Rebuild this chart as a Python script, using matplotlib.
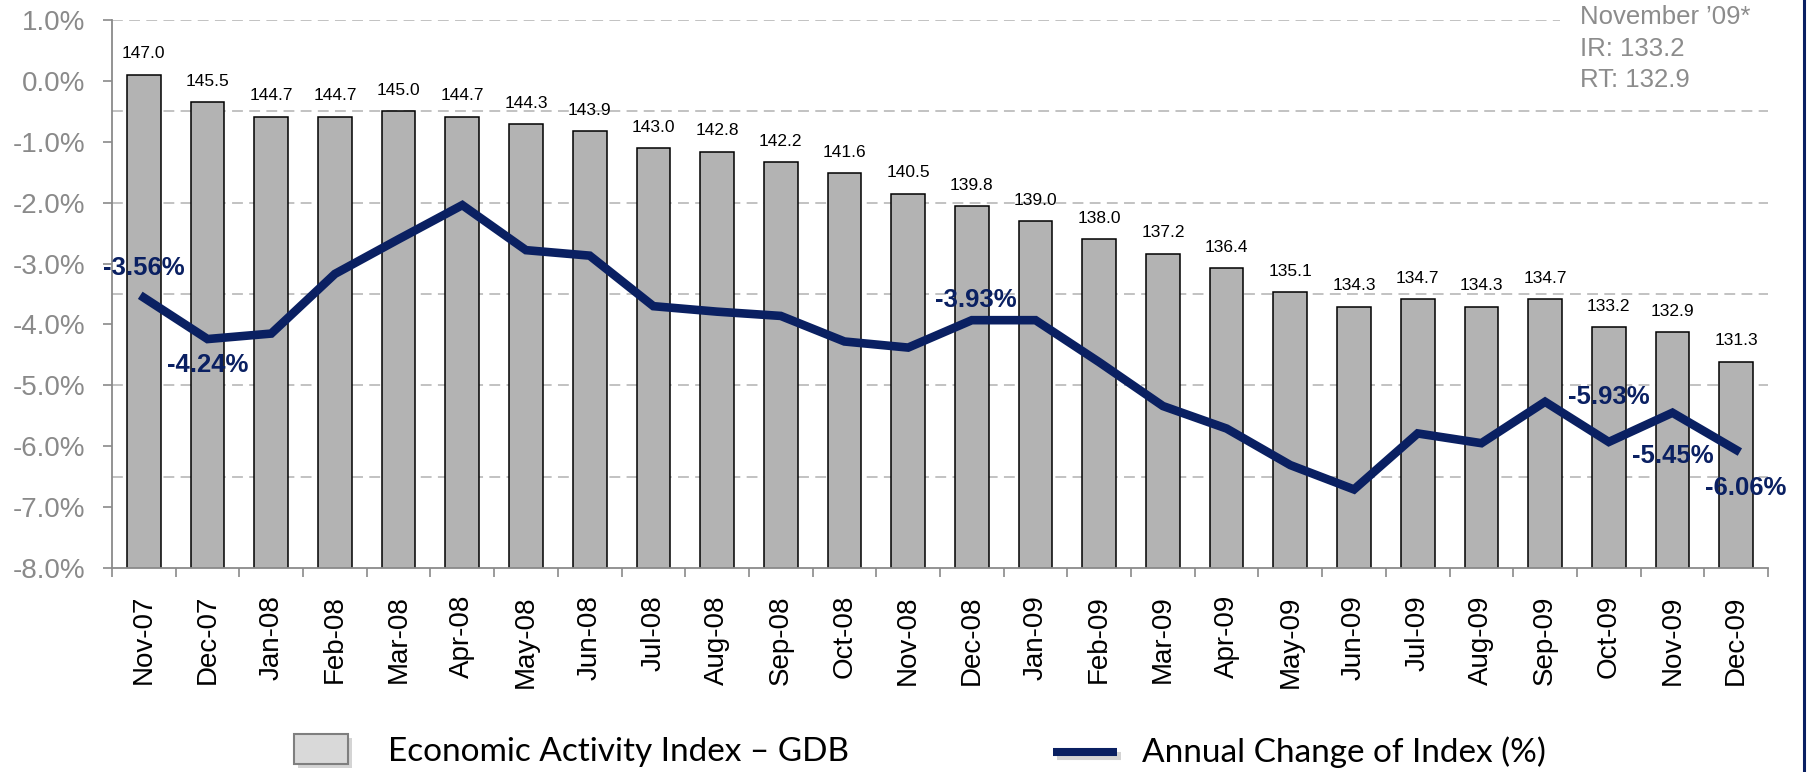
import numpy as np
import matplotlib
matplotlib.use("Agg")
import matplotlib.pyplot as plt
from matplotlib.patches import Rectangle
from matplotlib.lines import Line2D
from matplotlib.ticker import FuncFormatter

plt.rcParams['font.family'] = ['Liberation Sans', 'DejaVu Sans']

months = ["Nov-07", "Dec-07", "Jan-08", "Feb-08", "Mar-08", "Apr-08", "May-08", "Jun-08",
          "Jul-08", "Aug-08", "Sep-08", "Oct-08", "Nov-08", "Dec-08", "Jan-09", "Feb-09",
          "Mar-09", "Apr-09", "May-09", "Jun-09", "Jul-09", "Aug-09", "Sep-09", "Oct-09",
          "Nov-09", "Dec-09"]
index_values = [147.0, 145.5, 144.7, 144.7, 145.0, 144.7, 144.3, 143.9, 143.0, 142.8,
                142.2, 141.6, 140.5, 139.8, 139.0, 138.0, 137.2, 136.4, 135.1, 134.3,
                134.7, 134.3, 134.7, 133.2, 132.9, 131.3]
annual_change = [-3.56, -4.24, -4.15, -3.17, -2.60, -2.04, -2.78, -2.87, -3.70, -3.79,
                 -3.86, -4.28, -4.38, -3.93, -3.93, -4.62, -5.34, -5.71, -6.31, -6.71,
                 -5.79, -5.95, -5.27, -5.93, -5.45, -6.06]
# labelled points: index -> (dx, dy) offset in points
pct_labels = {0: (0, 21.5), 1: (0, -19), 13: (3, 14.5), 23: (0, 32.5), 24: (0, -31.5), 25: (7, -27.5)}
legend_labels = ["Economic Activity Index \u2013 GDB", "Annual Change of Index (%)"]
note_lines = ["November \u201909*", "IR: 133.2", "RT: 132.9"]

W, H = 1808, 772
NAVY = '#0a2062'
GRAY = '#8a8a8a'
GRID = '#bdbdbd'

fig = plt.figure(figsize=(W / 100, H / 100), dpi=100)
L, R, T, B = 112, 1768, 20, 568
ax = fig.add_axes([L / W, 1 - B / H, (R - L) / W, (B - T) / H])
x = np.arange(len(months))

ax.bar(x, index_values, width=0.53, color='#b3b3b3', edgecolor='black', linewidth=1.1, zorder=2)
ax.set_ylim(120, 150)
ax.set_xlim(-0.5, len(months) - 0.5)
ax.set_yticks(np.arange(125, 151, 5))
ax.yaxis.grid(True, linestyle=(0, (6, 3.5)), color=GRID, linewidth=1.3)
ax.set_axisbelow(True)

for i, v in enumerate(index_values):
    ax.annotate(f"{v:.1f}", (i, v), xytext=(0, 15), textcoords='offset points',
                ha='center', va='center', fontsize=12.5, color='black', zorder=4)

ax2 = ax.twinx()
ax2.set_ylim(-8, 1)
ax2.plot(x, annual_change, color=NAVY, linewidth=6.2, solid_joinstyle='miter', zorder=3)
for i, (dx, dy) in pct_labels.items():
    ax2.annotate(f"{annual_change[i]:.2f}%", (i, annual_change[i]), xytext=(dx, dy),
                 textcoords='offset points', ha='center', va='center',
                 fontsize=18.5, fontweight='bold', color=NAVY)

# y axis (percent) on the left
ax.tick_params(axis='y', left=False, labelleft=False, right=False, labelright=False)
ax2.yaxis.set_ticks_position('left')
ax2.yaxis.set_label_position('left')
ax2.set_yticks(np.arange(-8, 1.01, 1))
ax2.yaxis.set_major_formatter(FuncFormatter(lambda v, p: f"{v:.1f}%"))
ax2.tick_params(axis='y', direction='out', length=6.5, width=1.2, color=GRAY,
                labelsize=20, labelcolor=GRAY, pad=13)

# x axis
ax.set_xticks(np.arange(-0.5, len(months), 1))
ax.set_xticklabels([])
ax.set_xticks(x, minor=True)
ax.set_xticklabels(months, minor=True, rotation=90, fontsize=20)
ax.tick_params(axis='x', which='major', direction='out', length=6.5, width=1.2, color=GRAY)
ax.tick_params(axis='x', which='minor', length=0, pad=19.5)

for a in (ax, ax2):
    a.spines['top'].set_visible(False)
    a.spines['right'].set_visible(False)
ax.spines['left'].set_visible(False)
ax2.spines['bottom'].set_visible(False)
ax2.spines['left'].set_color(GRAY)
ax2.spines['left'].set_linewidth(1.3)
ax.spines['bottom'].set_color(GRAY)
ax.spines['bottom'].set_linewidth(1.3)

# note box top right
fig.add_artist(Rectangle((1560 / W, 1 - 34 / H), 215 / W, 28 / H, transform=fig.transFigure,
                         facecolor='white', edgecolor='none', zorder=5))
for k, s in enumerate(note_lines):
    fig.text(1580 / W, 1 - (17 + 31.5 * k) / H, s, ha='left', va='center', fontsize=18.5,
             color='#8c8c8c', zorder=6)

# legend (drawn manually)
fig.add_artist(Rectangle((298 / W, 1 - 768 / H), 54 / W, 30 / H, transform=fig.transFigure,
                         facecolor='#a0a0a0', edgecolor='none', alpha=0.45, zorder=5))
fig.add_artist(Rectangle((294 / W, 1 - 764 / H), 54 / W, 30 / H, transform=fig.transFigure,
                         facecolor='#d9d9d9', edgecolor='#7f7f7f', linewidth=1.5, zorder=6))
fig.text(388 / W, 1 - 752 / H, legend_labels[0], ha='left', va='center', fontsize=24,
         family=['Lato', 'DejaVu Sans'], color='black')
fig.add_artist(Line2D([1057 / W, 1121 / W], [1 - 756 / H, 1 - 756 / H], transform=fig.transFigure,
                      color='#a0a0a0', alpha=0.45, linewidth=5.8, solid_capstyle='butt', zorder=5))
fig.add_artist(Line2D([1053 / W, 1117 / W], [1 - 752 / H, 1 - 752 / H], transform=fig.transFigure,
                      color=NAVY, linewidth=5.8, solid_capstyle='butt', zorder=6))
fig.text(1142 / W, 1 - 752 / H, legend_labels[1], ha='left', va='center', fontsize=24,
         family=['Lato', 'DejaVu Sans'], color='black')

# right border
fig.add_artist(Line2D([1804.5 / W, 1804.5 / W], [0, 1], transform=fig.transFigure,
                      color=NAVY, linewidth=2.2, zorder=7))

fig.savefig("out.png", dpi=100)
